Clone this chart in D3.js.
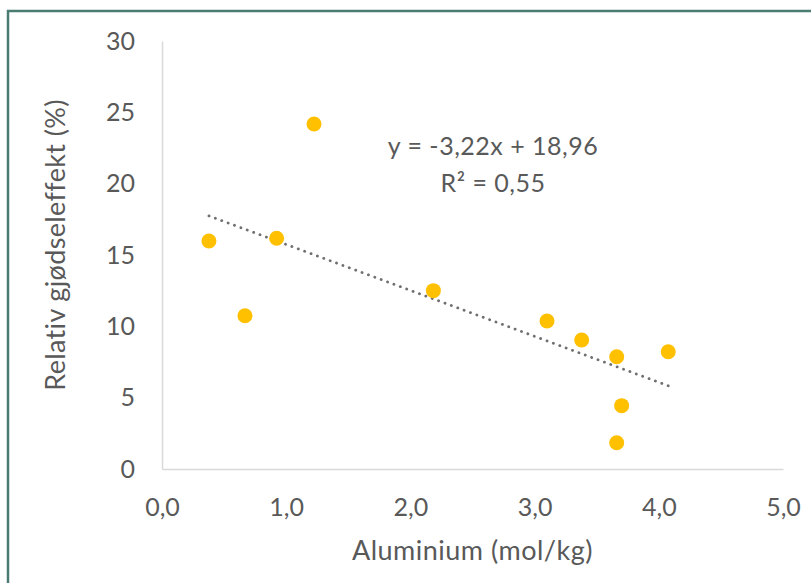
<!DOCTYPE html>
<html>
<head>
<meta charset="utf-8">
<script src="https://cdn.jsdelivr.net/npm/d3@7"></script>
<style>
  body { margin: 0; background: #fff; }
  text { font-family: Lato, "Open Sans", sans-serif; fill: #595959; }
</style>
</head>
<body>
<div id="chart"></div>
<script>
// ==== Data ====
const aluminium = [0.378, 0.668, 0.923, 1.224, 2.185, 3.10, 3.379, 3.661, 4.076, 3.701, 3.661];
const effekt    = [15.98, 10.74, 16.17, 24.18, 12.50, 10.37, 9.04, 7.87, 8.22, 4.44, 1.84];
const xTicks = [0, 1, 2, 3, 4, 5];
const yTicks = [0, 5, 10, 15, 20, 25, 30];
const trendSlope = -3.22, trendIntercept = 18.96;
const equationLines = ["y = -3,22x + 18,96", "R² = 0,55"];

const W = 811, H = 583;
const margin = { top: 41, right: 28, bottom: 114, left: 162 };
const width = W - margin.left - margin.right;
const height = H - margin.top - margin.bottom;

const svg = d3.select("#chart").append("svg")
    .attr("width", W)
    .attr("height", H);

// frame
svg.append("rect")
    .attr("x", 8).attr("y", 11)
    .attr("width", W + 20).attr("height", H + 20)
    .attr("fill", "none")
    .attr("stroke", "#4a7c72")
    .attr("stroke-width", 2.5);

const g = svg.append("g").attr("transform", `translate(${margin.left},${margin.top})`);

const x = d3.scaleLinear().domain([0, 5]).range([0, width]);
const y = d3.scaleLinear().domain([0, 30]).range([height, 0]);

const no = d3.formatLocale({ decimal: ",", thousands: ".", grouping: [3], currency: ["", " kr"] });

const xAxis = g.append("g")
    .attr("transform", `translate(0,${height})`)
    .call(d3.axisBottom(x).tickValues(xTicks).tickFormat(no.format(".1f")).tickSize(0).tickSizeOuter(0).tickPadding(29));

const yAxis = g.append("g")
    .call(d3.axisLeft(y).tickValues(yTicks).tickSize(0).tickSizeOuter(0).tickPadding(27));

[xAxis, yAxis].forEach(a => {
    a.select(".domain").attr("stroke", "#d9d9d9").attr("stroke-width", 1.5);
    a.selectAll("text").style("font-size", "25px").style("font-family", "Lato, sans-serif").attr("fill", "#595959");
});

// trendline
const xr = d3.extent(aluminium);
g.append("line")
    .attr("x1", x(xr[0])).attr("y1", y(trendSlope * xr[0] + trendIntercept))
    .attr("x2", x(xr[1])).attr("y2", y(trendSlope * xr[1] + trendIntercept))
    .attr("stroke", "#6f6f6f")
    .attr("stroke-width", 2.8)
    .attr("stroke-linecap", "round")
    .attr("stroke-dasharray", "0.1 6.7");

// points
g.selectAll("circle")
    .data(aluminium)
    .enter()
    .append("circle")
    .attr("cx", d => x(d))
    .attr("cy", (d, i) => y(effekt[i]))
    .attr("r", 7.5)
    .attr("fill", "#ffc000");

// equation label
g.append("text")
    .attr("x", 331)
    .attr("y", 114)
    .attr("text-anchor", "middle")
    .style("font-size", "25px")
    .style("letter-spacing", "0.5px")
    .selectAll("tspan")
    .data(equationLines)
    .enter()
    .append("tspan")
    .attr("x", 331)
    .attr("dy", (d, i) => i === 0 ? 0 : 37)
    .text(d => d);

// axis titles
svg.append("text")
    .attr("x", margin.left + width / 2)
    .attr("y", 560)
    .attr("text-anchor", "middle")
    .style("font-size", "27px")
    .style("letter-spacing", "0.5px")
    .text("Aluminium (mol/kg)");

svg.append("text")
    .attr("transform", "translate(65,245) rotate(-90)")
    .attr("text-anchor", "middle")
    .style("font-size", "27px")
    .style("letter-spacing", "0.35px")
    .text("Relativ gjødseleffekt (%)");
</script>
</body>
</html>
